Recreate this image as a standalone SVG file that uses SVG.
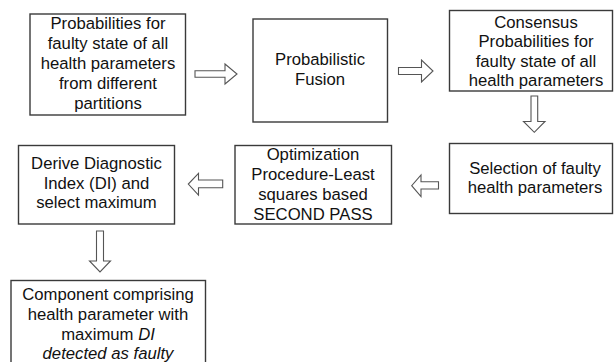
<svg xmlns="http://www.w3.org/2000/svg" width="614" height="362" viewBox="0 0 614 362">
<style>
.box{fill:#fff;stroke:#3a3a3a;stroke-width:1.4}
.t{font-family:"Liberation Sans",Arial,sans-serif;font-size:16.7px;fill:#111;text-anchor:middle}
.ar{fill:#fff;stroke:#555;stroke-width:1.1;stroke-linejoin:miter}
</style>
<rect width="614" height="362" fill="#fff"/>
<g id="n1">
<rect class="box" x="30" y="14" width="155.5" height="101"/>
<text class="t" x="108" y="28.5">Probabilities for</text>
<text class="t" x="108" y="48.5">faulty state of all</text>
<text class="t" x="108" y="68.5">health parameters</text>
<text class="t" x="108" y="88.5">from different</text>
<text class="t" x="108" y="108.5">partitions</text>
</g>
<g id="n2">
<rect class="box" x="253" y="19" width="134.5" height="103"/>
<text class="t" x="320" y="65">Probabilistic</text>
<text class="t" x="320" y="85">Fusion</text>
</g>
<g id="n3">
<rect class="box" x="449.5" y="10.5" width="163" height="80.5"/>
<text class="t" x="536" y="27.5">Consensus</text>
<text class="t" x="536" y="47">Probabilities for</text>
<text class="t" x="536" y="66.5">faulty state of all</text>
<text class="t" x="536" y="86">health parameters</text>
</g>
<g id="n4">
<rect class="box" x="449.5" y="143.5" width="163" height="70"/>
<text class="t" x="535" y="173.5">Selection of faulty</text>
<text class="t" x="535" y="193">health parameters</text>
</g>
<g id="n5">
<rect class="box" x="235" y="145.5" width="156.5" height="78.5"/>
<text class="t" x="313" y="159.5">Optimization</text>
<text class="t" x="313" y="180">Procedure-Least</text>
<text class="t" x="313" y="200">squares based</text>
<text class="t" x="313" y="220">SECOND PASS</text>
</g>
<g id="n6">
<rect class="box" x="18.5" y="145.5" width="156" height="78.5"/>
<text class="t" x="96.5" y="169">Derive Diagnostic</text>
<text class="t" x="96.5" y="188.5">Index (DI) and</text>
<text class="t" x="96.5" y="208">select maximum</text>
</g>
<g id="n7">
<rect class="box" x="11" y="280.5" width="194.5" height="90"/>
<text class="t" x="108" y="299.5">Component comprising</text>
<text class="t" x="108" y="319.5">health parameter with</text>
<text class="t" x="108" y="339.5">maximum <tspan font-style="italic">DI</tspan></text>
<text class="t" x="108" y="358.5" font-style="italic">detected as faulty</text>
</g>
<g id="connectors">
<path class="ar" d="M195,70.7 H225 V64 L237,74 L225,84 V77.3 H195 Z"/>
<path class="ar" d="M398.5,67.5 H421.5 V60 L433,71 L421.5,82 V74.5 H398.5 Z"/>
<path class="ar" d="M531,96 V121.5 H523.5 L534.3,132.3 L545,121.5 H537.7 V96 Z"/>
<path class="ar" d="M438.5,181.7 H421 V175 L411.7,185.7 L421,196.5 V189 H438.5 Z"/>
<path class="ar" d="M222.7,180 H198.5 V173.3 L188.3,184 L198.5,195 V187.7 H222.7 Z"/>
<path class="ar" d="M96.5,231 V261 H89.5 L100,272 L110.5,261 H103.5 V231 Z"/>
</g>
</svg>
